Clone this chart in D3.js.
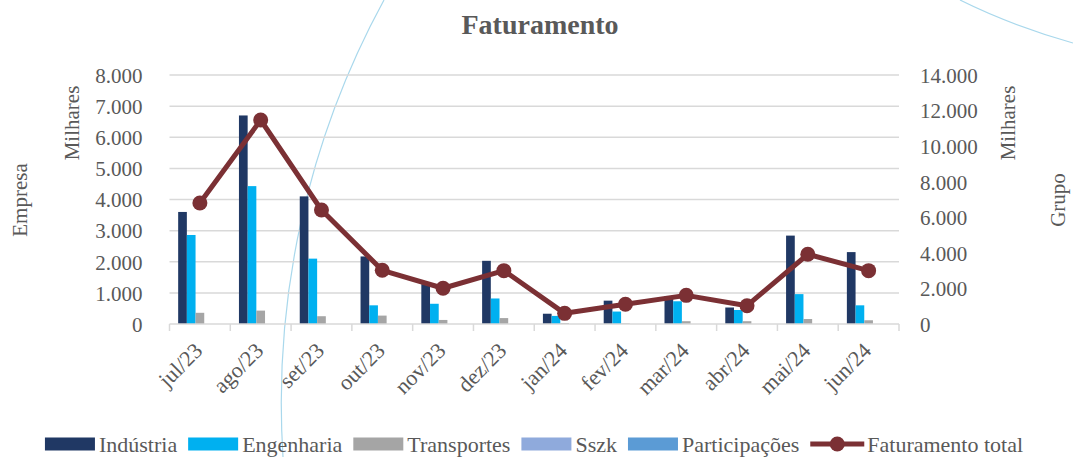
<!DOCTYPE html>
<html>
<head>
<meta charset="utf-8">
<script src="https://cdn.jsdelivr.net/npm/d3@7/dist/d3.min.js"></script>
<style>
  body { margin: 0; background: #fff; }
  text { font-family: "Liberation Serif", "DejaVu Serif", serif; fill: #595959; }
</style>
</head>
<body>
<div id="chart"></div>
<script>
// data (thousands)
var months = ["jul/23", "ago/23", "set/23", "out/23", "nov/23", "dez/23",
              "jan/24", "fev/24", "mar/24", "abr/24", "mai/24", "jun/24"];
var industria    = [3600, 6700, 4100, 2170, 1280, 2030, 330, 750, 900, 530, 2840, 2310];
var engenharia   = [2860, 4430, 2100, 600, 650, 820, 260, 400, 730, 450, 960, 600];
var transportes  = [360, 430, 250, 270, 130, 190, 30, 20, 90, 90, 160, 120];
var sszk         = [0, 0, 0, 0, 0, 0, 0, 0, 0, 0, 0, 0];
var participacoes = [0, 0, 0, 0, 0, 0, 0, 0, 0, 0, 0, 0];
var faturamentoTotal = [6800, 11470, 6410, 3020, 2010, 3000, 600, 1110, 1610, 1030, 3920, 3000];
var leftTicks  = [0, 1000, 2000, 3000, 4000, 5000, 6000, 7000, 8000];
var rightTicks = [0, 2000, 4000, 6000, 8000, 10000, 12000, 14000];

var barSeries = [
  {name: "Indústria", values: industria, color: "#203864"},
  {name: "Engenharia", values: engenharia, color: "#00b0f0"},
  {name: "Transportes", values: transportes, color: "#a5a5a5"},
  {name: "Sszk", values: sszk, color: "#8faadc"},
  {name: "Participações", values: participacoes, color: "#5b9bd5"}
];
var lineColor = "#7b3034";

var W = 1073, H = 457;
var plot = {left: 169.5, right: 899, top: 75, bottom: 324};

var svg = d3.select("#chart").append("svg")
  .attr("width", W)
  .attr("height", H);

// decorative arcs from the slide background
svg.append("path")
  .attr("d", "M384,0 A842,842 0 0,0 283,457")
  .attr("fill", "none").attr("stroke", "#a9d8ec").attr("stroke-width", 1.2);
svg.append("path")
  .attr("d", "M960,0 Q1010,25 1073,43")
  .attr("fill", "none").attr("stroke", "#a9d8ec").attr("stroke-width", 1.2);

var x0 = d3.scaleBand()
  .domain(months)
  .range([plot.left, plot.right])
  .paddingInner(0.285)
  .paddingOuter(0.1425);

var x1 = d3.scaleBand()
  .domain(barSeries.map(function(s) { return s.name; }))
  .range([0, x0.bandwidth()]);

var yLeft = d3.scaleLinear().domain([0, 8000]).range([plot.bottom, plot.top]);
var yRight = d3.scaleLinear().domain([0, 14000]).range([plot.bottom, plot.top]);

var fmt = function(d) { return d3.format(",")(d).replace(/,/g, "."); };

// gridlines
svg.append("g")
  .selectAll("line")
  .data(leftTicks.slice(1))
  .enter().append("line")
    .attr("x1", plot.left).attr("x2", plot.right)
    .attr("y1", function(d) { return yLeft(d); })
    .attr("y2", function(d) { return yLeft(d); })
    .attr("stroke", "#d9d9d9")
    .attr("stroke-width", 1.5);

// left axis labels
var leftAxis = svg.append("g")
  .attr("transform", "translate(" + (plot.left - 27) + ",0)")
  .call(d3.axisLeft(yLeft).tickValues(leftTicks).tickFormat(fmt).tickSize(0).tickPadding(0));
leftAxis.select(".domain").remove();
leftAxis.selectAll("text")
  .style("font-size", "21px")
  .attr("fill", "#595959")
  .attr("dy", "0.35em");

// right axis labels
var rightAxis = svg.append("g")
  .attr("transform", "translate(" + (plot.right + 21) + ",0)")
  .call(d3.axisRight(yRight).tickValues(rightTicks).tickFormat(fmt).tickSize(0).tickPadding(0));
rightAxis.select(".domain").remove();
rightAxis.selectAll("text")
  .style("font-size", "21px")
  .attr("fill", "#595959")
  .attr("dy", "0.35em");

// bars
var groups = svg.append("g")
  .selectAll("g")
  .data(months)
  .enter().append("g")
    .attr("transform", function(d) { return "translate(" + x0(d) + ",0)"; });

groups.selectAll("rect")
  .data(function(m, i) {
    return barSeries.map(function(s) { return {name: s.name, value: s.values[i], color: s.color}; });
  })
  .enter().append("rect")
    .attr("x", function(d) { return x1(d.name); })
    .attr("width", x1.bandwidth())
    .attr("y", function(d) { return yLeft(d.value); })
    .attr("height", function(d) { return plot.bottom - yLeft(d.value); })
    .attr("fill", function(d) { return d.color; });

// category axis
var step = x0.step();
var xAxis = svg.append("g");
xAxis.append("line")
  .attr("x1", plot.left).attr("x2", plot.right)
  .attr("y1", plot.bottom).attr("y2", plot.bottom)
  .attr("stroke", "#d9d9d9").attr("stroke-width", 1.5);
xAxis.selectAll("line.tick")
  .data(d3.range(months.length + 1))
  .enter().append("line")
    .attr("class", "tick")
    .attr("x1", function(i) { return plot.left + i * step; })
    .attr("x2", function(i) { return plot.left + i * step; })
    .attr("y1", plot.bottom).attr("y2", plot.bottom + 7)
    .attr("stroke", "#d9d9d9").attr("stroke-width", 1.5);
xAxis.selectAll("text")
  .data(months)
  .enter().append("text")
    .attr("transform", function(d) {
      return "translate(" + (x0(d) + x0.bandwidth() / 2 + 4) + "," + (plot.bottom + 28) + ") rotate(-45)";
    })
    .attr("text-anchor", "end")
    .style("font-size", "22px")
    .text(function(d) { return d; });

// faturamento total line
var cx = function(d, i) { return x0(months[i]) + x0.bandwidth() / 2; };
var line = d3.line()
  .x(function(d, i) { return cx(d, i); })
  .y(function(d) { return yRight(d); });

svg.append("path")
  .datum(faturamentoTotal)
  .attr("d", line)
  .attr("fill", "none")
  .attr("stroke", lineColor)
  .attr("stroke-width", 5)
  .attr("stroke-linejoin", "round");

svg.selectAll("circle.pt")
  .data(faturamentoTotal)
  .enter().append("circle")
    .attr("class", "pt")
    .attr("cx", cx)
    .attr("cy", function(d) { return yRight(d); })
    .attr("r", 7.5)
    .attr("fill", lineColor);

// title
svg.append("text")
  .attr("x", 540).attr("y", 34)
  .attr("text-anchor", "middle")
  .style("font-size", "28px")
  .style("font-weight", "bold")
  .text("Faturamento");

// axis titles
function vText(x, y, t) {
  svg.append("text")
    .attr("transform", "translate(" + x + "," + y + ") rotate(-90)")
    .attr("text-anchor", "middle")
    .attr("dy", "0.35em")
    .style("font-size", "21px")
    .text(t);
}
vText(20, 200, "Empresa");
vText(72, 123, "Milhares");
vText(1008, 123, "Milhares");
vText(1058, 200, "Grupo");

// legend
var legend = svg.append("g");
var lx = 0, ly = 444;
barSeries.forEach(function(s) {
  legend.append("rect")
    .attr("x", lx).attr("y", ly - 6.5)
    .attr("width", 50).attr("height", 13)
    .attr("fill", s.color);
  var t = legend.append("text")
    .attr("x", lx + 54).attr("y", ly).attr("dy", "0.35em")
    .style("font-size", "22px")
    .text(s.name);
  lx += 54 + t.node().getComputedTextLength() + 11;
});
legend.append("line")
  .attr("x1", lx).attr("x2", lx + 54)
  .attr("y1", ly).attr("y2", ly)
  .attr("stroke", lineColor).attr("stroke-width", 5);
legend.append("circle")
  .attr("cx", lx + 27).attr("cy", ly).attr("r", 7.5)
  .attr("fill", lineColor);
var lt = legend.append("text")
  .attr("x", lx + 57).attr("y", ly).attr("dy", "0.35em")
  .style("font-size", "22px")
  .text("Faturamento total");
var lw = lx + 57 + lt.node().getComputedTextLength();
legend.attr("transform", "translate(" + (534 - lw / 2) + ",0)");
</script>
</body>
</html>
